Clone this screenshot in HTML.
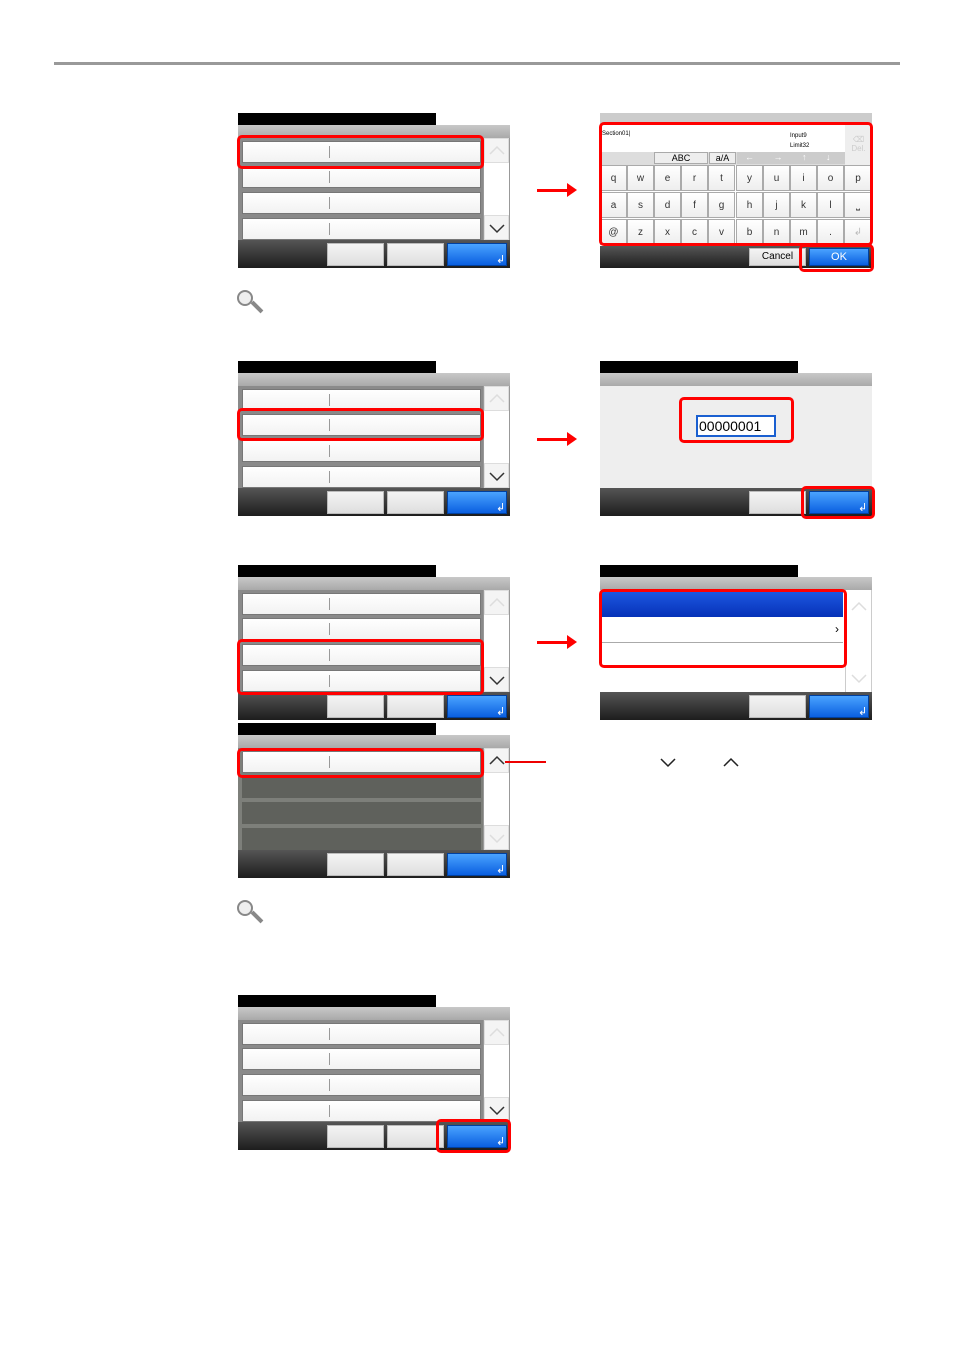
<!DOCTYPE html>
<html><head><meta charset="utf-8"><style>
body{margin:0;width:954px;height:1350px;background:#fff;position:relative;font-family:"Liberation Sans",sans-serif;overflow:hidden}
div{position:absolute;box-sizing:border-box}
svg{position:absolute}
.tb{background:#000;height:12px;width:198px}
.gb{background:linear-gradient(#c8c8c8,#a9a9a9);height:13px;width:272px}
.la{background:#8a8a8a;height:102px;width:272px}
.row{left:4px;width:239px;height:22px;background:linear-gradient(#fff,#f2f2f2);border:1px solid #777}
.row:after{content:"";position:absolute;left:86px;top:4px;width:1px;height:12px;background:#999}
.drow{left:4px;width:239px;height:22px;background:#5f615c}
.sc{left:245px;width:27px;height:102px;background:#fff;border-left:1px solid #999;border-right:1px solid #999}
.up,.dn{left:0;width:25px;height:25px;background:#f4f4f4;border:1px solid #ddd}
.bb{background:linear-gradient(#555,#1d1d1d);height:28px;width:272px}
.btn{top:3px;height:23px;width:57px;background:linear-gradient(#f4f4f4,#dedede);border:1px solid #bbb}
.bl{top:3px;height:23px;width:60px;background:linear-gradient(#4aa3ff,#0a5fe0);border:1px solid #0040a0;color:#fff;font-size:11px}
.red{border:3px solid #f00;border-radius:5px}
.arr{width:36px;height:3px;background:#f00}
.arr:after{content:"";position:absolute;right:-4px;top:-6px;border-left:10px solid #f00;border-top:7px solid transparent;border-bottom:7px solid transparent}
.k{width:27px;height:26px;background:linear-gradient(#fff,#eee);border:1px solid #aaa;font-size:10px;text-align:center;line-height:25px;color:#333}
</style></head><body>
<div style="left:54px;top:62px;width:846px;height:3px;background:#999"></div>

<!-- Panel A -->
<div style="left:238px;top:113px;width:272px;height:155px">
<div class="tb" style="top:0;left:0"></div><div class="gb" style="top:12px;left:0"></div>
<div class="la" style="top:25px;left:0"><div class="row" style="top:3px"></div><div class="row" style="top:28px"></div><div class="row" style="top:54px"></div><div class="row" style="top:80px;height:22px"></div>
<div class="sc" style="top:0"><div class="up" style="top:0"><svg width="24" height="24"><polyline points="5,15 12,8 19,15" fill="none" stroke="#ddd" stroke-width="1.5"/></svg></div><div class="dn" style="top:77px"><svg width="24" height="24"><polyline points="5,9 12,16 19,9" fill="none" stroke="#333" stroke-width="1.5"/></svg></div></div></div>
<div class="bb" style="top:127px;left:0"><div class="btn" style="left:89px"></div><div class="btn" style="left:149px"></div><div class="bl" style="left:209px;padding:9px 0 0 48px">↲</div></div>
</div>
<div class="red" style="left:237px;top:135px;width:247px;height:34px"></div>

<!-- Keyboard -->
<div style="left:600px;top:113px;width:272px;height:155px;background:#fff">
<div style="left:0;top:0;width:272px;height:12px;background:#ccc"></div>
<div style="left:0;top:12px;width:245px;height:27px;background:#fff;font-size:6px;padding:6px 2px;color:#000">Section01|</div>
<div style="left:190px;top:18px;font-size:6px;line-height:10px">Input9<br>Limit32</div>
<div style="left:245px;top:12px;width:27px;height:40px;background:#eee;color:#ccc;font-size:8px;text-align:center;padding-top:10px">⌫<br>Del.</div>
<div style="left:0;top:39px;width:245px;height:13px;background:#ddd"></div>
<div style="left:54px;top:39px;width:54px;height:12px;background:#eee;border:1px solid #aaa;font-size:9px;text-align:center">ABC</div>
<div style="left:109px;top:39px;width:27px;height:12px;background:#eee;border:1px solid #aaa;font-size:9px;text-align:center">a/A</div>
<div style="left:137px;top:39px;width:108px;height:12px;background:#ccc;color:#fff;font-size:9px;word-spacing:17px;padding-left:8px">← → ↑ ↓</div>
<div style="top:52px;left:0;width:272px;height:80px">
<div class="k" style="left:0;top:0">q</div><div class="k" style="left:27px;top:0">w</div><div class="k" style="left:54px;top:0">e</div><div class="k" style="left:81px;top:0">r</div><div class="k" style="left:108px;top:0">t</div><div class="k" style="left:136px;top:0">y</div><div class="k" style="left:163px;top:0">u</div><div class="k" style="left:190px;top:0">i</div><div class="k" style="left:217px;top:0">o</div><div class="k" style="left:244px;top:0;width:28px">p</div>
<div class="k" style="left:0;top:27px">a</div><div class="k" style="left:27px;top:27px">s</div><div class="k" style="left:54px;top:27px">d</div><div class="k" style="left:81px;top:27px">f</div><div class="k" style="left:108px;top:27px">g</div><div class="k" style="left:136px;top:27px">h</div><div class="k" style="left:163px;top:27px">j</div><div class="k" style="left:190px;top:27px">k</div><div class="k" style="left:217px;top:27px">l</div><div class="k" style="left:244px;top:27px;width:28px">⎵</div>
<div class="k" style="left:0;top:54px">@</div><div class="k" style="left:27px;top:54px">z</div><div class="k" style="left:54px;top:54px">x</div><div class="k" style="left:81px;top:54px">c</div><div class="k" style="left:108px;top:54px">v</div><div class="k" style="left:136px;top:54px">b</div><div class="k" style="left:163px;top:54px">n</div><div class="k" style="left:190px;top:54px">m</div><div class="k" style="left:217px;top:54px">.</div><div class="k" style="left:244px;top:54px;width:28px;color:#bbb">↲</div>
</div>
<div class="bb" style="top:133px;left:0;height:22px"><div class="btn" style="left:149px;top:2px;height:18px;font-size:10px;text-align:center;line-height:16px">Cancel</div><div class="bl" style="left:209px;top:2px;height:18px;text-align:center;line-height:16px">OK</div></div>
</div>
<div class="red" style="left:599px;top:122px;width:274px;height:124px"></div>
<div class="red" style="left:799px;top:244px;width:75px;height:28px"></div>

<div class="arr" style="left:537px;top:189px"></div>
<div class="arr" style="left:537px;top:438px"></div>
<div class="arr" style="left:537px;top:641px"></div>

<!-- magnifiers -->
<div style="left:237px;top:290px;width:16px;height:16px;border:2px solid #888;border-radius:50%;background:#eee"></div>
<div style="left:250px;top:305px;width:14px;height:4px;background:#888;transform:rotate(45deg)"></div>
<div style="left:237px;top:900px;width:16px;height:16px;border:2px solid #888;border-radius:50%;background:#eee"></div>
<div style="left:250px;top:915px;width:14px;height:4px;background:#888;transform:rotate(45deg)"></div>

<!-- Panel B -->
<div style="left:238px;top:361px;width:272px;height:155px">
<div class="tb" style="top:0;left:0"></div><div class="gb" style="top:12px;left:0"></div>
<div class="la" style="top:25px;left:0"><div class="row" style="top:3px"></div><div class="row" style="top:28px"></div><div class="row" style="top:54px"></div><div class="row" style="top:80px"></div>
<div class="sc" style="top:0"><div class="up" style="top:0"><svg width="24" height="24"><polyline points="5,15 12,8 19,15" fill="none" stroke="#ddd" stroke-width="1.5"/></svg></div><div class="dn" style="top:77px"><svg width="24" height="24"><polyline points="5,9 12,16 19,9" fill="none" stroke="#333" stroke-width="1.5"/></svg></div></div></div>
<div class="bb" style="top:127px;left:0"><div class="btn" style="left:89px"></div><div class="btn" style="left:149px"></div><div class="bl" style="left:209px;padding:9px 0 0 48px">↲</div></div>
</div>
<div class="red" style="left:237px;top:408px;width:247px;height:33px"></div>

<!-- Dialog -->
<div style="left:600px;top:361px;width:272px;height:155px;background:#fff">
<div class="tb" style="top:0;left:0"></div><div class="gb" style="top:12px;left:0"></div>
<div style="left:0;top:25px;width:272px;height:102px;background:#eee"></div>
<div style="left:96px;top:54px;width:80px;height:22px;background:#fff;border:2px solid #1a5fd0;font-size:14px;padding-left:1px;line-height:18px">00000001</div>
<div class="bb" style="top:127px;left:0"><div class="btn" style="left:149px"></div><div class="bl" style="left:209px;padding:9px 0 0 48px">↲</div></div>
</div>
<div class="red" style="left:679px;top:397px;width:115px;height:46px"></div>
<div class="red" style="left:801px;top:486px;width:74px;height:33px"></div>

<!-- Panel C -->
<div style="left:238px;top:565px;width:272px;height:155px">
<div class="tb" style="top:0;left:0"></div><div class="gb" style="top:12px;left:0"></div>
<div class="la" style="top:25px;left:0"><div class="row" style="top:3px"></div><div class="row" style="top:28px"></div><div class="row" style="top:54px"></div><div class="row" style="top:80px"></div>
<div class="sc" style="top:0"><div class="up" style="top:0"><svg width="24" height="24"><polyline points="5,15 12,8 19,15" fill="none" stroke="#ddd" stroke-width="1.5"/></svg></div><div class="dn" style="top:77px"><svg width="24" height="24"><polyline points="5,9 12,16 19,9" fill="none" stroke="#333" stroke-width="1.5"/></svg></div></div></div>
<div class="bb" style="top:127px;left:0"><div class="btn" style="left:89px"></div><div class="btn" style="left:149px"></div><div class="bl" style="left:209px;padding:9px 0 0 48px">↲</div></div>
</div>
<div class="red" style="left:237px;top:639px;width:247px;height:56px"></div>

<!-- List panel -->
<div style="left:600px;top:565px;width:272px;height:155px;background:#fff">
<div class="tb" style="top:0;left:0"></div><div class="gb" style="top:12px;left:0"></div>
<div style="left:2px;top:27px;width:241px;height:25px;background:linear-gradient(#1d57e0,#0632b8)"></div>
<div style="left:2px;top:52px;width:241px;height:26px;border-bottom:1px solid #aaa;font-size:12px;text-align:right;padding:5px 4px 0 0">›</div>
<div style="left:245px;top:25px;width:27px;height:102px;border-left:1px solid #ccc;border-right:1px solid #ccc"><svg width="26" height="102"><polyline points="6,20 13,13 20,20" fill="none" stroke="#ddd" stroke-width="1.5"/><polyline points="6,85 13,92 20,85" fill="none" stroke="#ddd" stroke-width="1.5"/></svg></div>
<div class="bb" style="top:127px;left:0"><div class="btn" style="left:149px"></div><div class="bl" style="left:209px;padding:9px 0 0 48px">↲</div></div>
</div>
<div class="red" style="left:599px;top:589px;width:248px;height:79px"></div>

<!-- Panel D -->
<div style="left:238px;top:723px;width:272px;height:155px">
<div class="tb" style="top:0;left:0"></div><div class="gb" style="top:12px;left:0"></div>
<div class="la" style="top:25px;left:0;background:#7d7f7a"><div class="row" style="top:3px"></div><div class="drow" style="top:28px"></div><div class="drow" style="top:54px"></div><div class="drow" style="top:80px"></div>
<div class="sc" style="top:0"><div class="up" style="top:0"><svg width="24" height="24"><polyline points="5,15 12,8 19,15" fill="none" stroke="#333" stroke-width="1.5"/></svg></div><div class="dn" style="top:77px"><svg width="24" height="24"><polyline points="5,9 12,16 19,9" fill="none" stroke="#ddd" stroke-width="1.5"/></svg></div></div></div>
<div class="bb" style="top:127px;left:0"><div class="btn" style="left:89px"></div><div class="btn" style="left:149px"></div><div class="bl" style="left:209px;padding:9px 0 0 48px">↲</div></div>
</div>
<div class="red" style="left:237px;top:748px;width:247px;height:30px"></div>
<div style="left:505px;top:761px;width:41px;height:2px;background:#e00"></div>
<svg style="left:659px;top:756px" width="18" height="12"><polyline points="2,3 9,10 16,3" fill="none" stroke="#222" stroke-width="1.5"/></svg>
<svg style="left:722px;top:756px" width="18" height="12"><polyline points="2,10 9,3 16,10" fill="none" stroke="#222" stroke-width="1.5"/></svg>

<!-- Panel E -->
<div style="left:238px;top:995px;width:272px;height:155px">
<div class="tb" style="top:0;left:0"></div><div class="gb" style="top:12px;left:0"></div>
<div class="la" style="top:25px;left:0"><div class="row" style="top:3px"></div><div class="row" style="top:28px"></div><div class="row" style="top:54px"></div><div class="row" style="top:80px"></div>
<div class="sc" style="top:0"><div class="up" style="top:0"><svg width="24" height="24"><polyline points="5,15 12,8 19,15" fill="none" stroke="#ddd" stroke-width="1.5"/></svg></div><div class="dn" style="top:77px"><svg width="24" height="24"><polyline points="5,9 12,16 19,9" fill="none" stroke="#333" stroke-width="1.5"/></svg></div></div></div>
<div class="bb" style="top:127px;left:0"><div class="btn" style="left:89px"></div><div class="btn" style="left:149px"></div><div class="bl" style="left:209px;padding:9px 0 0 48px">↲</div></div>
</div>
<div class="red" style="left:436px;top:1119px;width:75px;height:34px"></div>
</body></html>
